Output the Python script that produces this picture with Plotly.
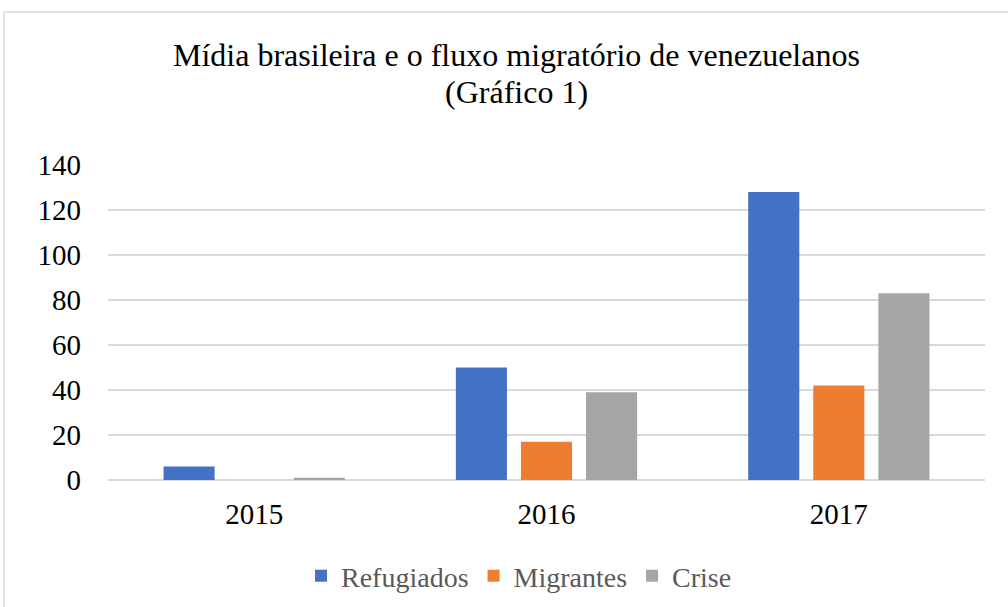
import plotly.graph_objects as go

years = ["2015", "2016", "2017"]
refugiados = [6, 50, 128]
migrantes = [0, 17, 42]
crise = [1, 39, 83]
series_names = ["Refugiados", "Migrantes", "Crise"]
colors = ["#4472C4", "#ED7D31", "#A5A5A5"]
y_ticks = [0, 20, 40, 60, 80, 100, 120, 140]
title_lines = ["Mídia brasileira e o fluxo migratório de venezuelanos", "(Gráfico 1)"]

FONT = "Liberation Serif, Times New Roman, serif"

fig = go.Figure()
for name, vals, col in zip(series_names, [refugiados, migrantes, crise], colors):
    fig.add_trace(go.Bar(x=years, y=vals, name=name, marker=dict(color=col, line=dict(width=0))))

W, H = 1008, 607
L, R, T = 108, 23, 165
B = H - 480
pw, ph = W - L - R, H - T - B

def px_x(p):
    return (p - L) / pw

def px_y(p):
    return (H - B - p) / ph

annotations = []
for txt, yy in zip(title_lines, [55, 92]):
    annotations.append(dict(text=txt, xref="paper", yref="paper", x=px_x(516), y=px_y(yy),
                            xanchor="center", yanchor="middle", showarrow=False,
                            font=dict(family=FONT, size=32, color="#000000")))

fig.update_layout(
    width=W, height=H,
    margin=dict(l=L, r=R, t=T, b=B, autoexpand=False),
    paper_bgcolor="white", plot_bgcolor="white",
    barmode="group", bargap=0.332, bargroupgap=0.215,
    font=dict(family=FONT, color="#000000", size=29),
    annotations=annotations,
    legend=dict(
        orientation="h", xref="container", yref="container",
        x=519 / W, xanchor="center", y=1 - 576 / H, yanchor="middle",
        font=dict(family=FONT, size=28, color="#595959"),
        tracegroupgap=0, traceorder="normal",
    ),
    showlegend=True,
    shapes=[dict(type="rect", xref="paper", yref="paper",
                 x0=px_x(4), x1=px_x(1030), y0=px_y(630), y1=px_y(12),
                 line=dict(color="#d9d9d9", width=1.5), fillcolor="rgba(0,0,0,0)", layer="below")],
)

fig.update_xaxes(showgrid=False, showline=False, ticks="", ticklabelstandoff=14,
                 tickfont=dict(family=FONT, size=29, color="#000000"))
fig.update_yaxes(range=[0, 140], tickvals=y_ticks, showgrid=True, gridcolor="#d9d9d9", gridwidth=1.5,
                 zeroline=True, zerolinecolor="#d9d9d9", zerolinewidth=1.5, showline=False, ticks="",
                 ticklabelstandoff=26, tickfont=dict(family=FONT, size=29, color="#000000"))

fig.write_html("out.html", config={"displayModeBar": False},
               post_script="document.body.style.margin='0';document.body.style.overflow='hidden';")
